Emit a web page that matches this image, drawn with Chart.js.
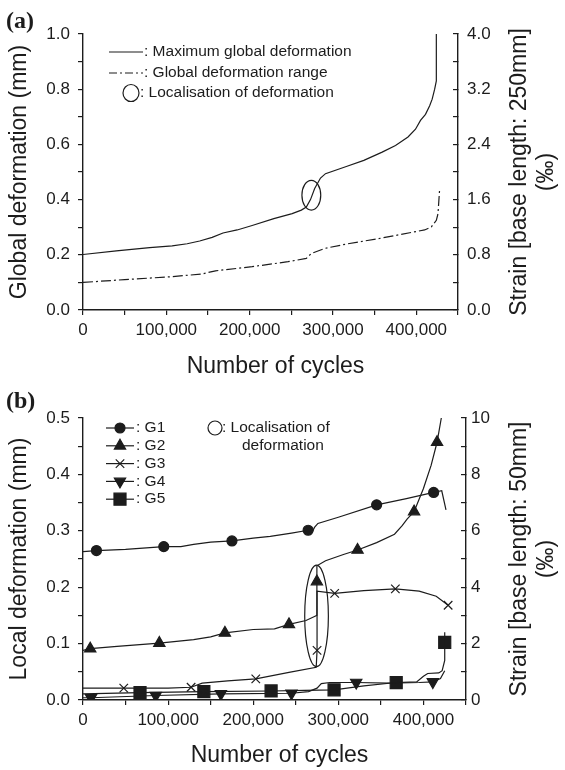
<!DOCTYPE html>
<html lang="en">
  <head>
    <meta charset="UTF-8" />
    <title>Global and local deformation vs number of cycles</title>
    <script src="https://cdn.jsdelivr.net/npm/chart.js"></script>
    <style>
      body {
        margin: 0;
        background: #fff;
      }
      .panel {
        position: absolute;
        left: 0;
        width: 565px;
        height: 385px;
      }
      .panel canvas {
        display: block;
      }
      #panelA {
        top: 0;
      }
      #panelB {
        top: 385px;
      }
    </style>
  </head>

  <body>
    <div class="panel" id="panelA"><canvas id="chartA" width="565" height="385"></canvas></div>
    <div class="panel" id="panelB"><canvas id="chartB" width="565" height="385"></canvas></div>

    <script>
      const FONT = '"Liberation Sans", Arial, Helvetica, sans-serif';
      const INK = "#1c1c1c";

      // (a) global deformation over the 250 mm base
      const maxDefCycles = [0, 40000, 80000, 107000, 125000, 140000, 155000, 168000, 185000, 203000, 229000, 251000, 262000, 268000, 273000, 278000, 285000, 291000, 316000, 337000, 359000, 375000, 390000, 399000, 405000, 411000, 416000, 419000, 422000, 424000, 424000];
      const maxDefValues = [0.201, 0.214, 0.226, 0.232, 0.24, 0.25, 0.263, 0.279, 0.29, 0.306, 0.331, 0.349, 0.362, 0.373, 0.4, 0.44, 0.478, 0.494, 0.52, 0.542, 0.572, 0.596, 0.627, 0.655, 0.687, 0.709, 0.74, 0.764, 0.8, 0.83, 1.0];
      const rangeCycles = [0, 50000, 103000, 142000, 159000, 203000, 246000, 268000, 274000, 290000, 316000, 359000, 394000, 410000, 418000, 424000, 426000, 428000];
      const rangeValues = [0.1, 0.11, 0.12, 0.13, 0.142, 0.157, 0.175, 0.187, 0.205, 0.223, 0.239, 0.261, 0.281, 0.29, 0.301, 0.325, 0.349, 0.44];
      // centre and half axes (cycles, mm) of the localisation ring
      const globalRing = [274000, 0.416, 11300, 0.054];

      // (b) local deformation, gauges G1..G5 over the 50 mm base
      const g1Cycles = [0, 15800, 50000, 94900, 115000, 130000, 150000, 175000, 200000, 220000, 245000, 264500, 270000, 272000, 276000, 300000, 345000, 380000, 412000, 421500, 426500];
      const g1Values = [0.263, 0.265, 0.267, 0.272, 0.272, 0.276, 0.28, 0.282, 0.287, 0.29, 0.296, 0.301, 0.3, 0.306, 0.313, 0.324, 0.346, 0.357, 0.368, 0.371, 0.337];
      const g1MarkCycles = [15800, 94900, 175000, 264500, 345000, 412000];
      const g1MarkValues = [0.265, 0.272, 0.282, 0.301, 0.346, 0.368];

      const g2Cycles = [0, 8500, 40000, 89700, 130000, 150000, 166700, 200000, 225000, 242000, 262000, 272000, 274800, 274800, 285000, 306000, 322600, 345000, 366000, 375000, 381000, 389000, 400000, 409000, 416000, 421000];
      const g2Values = [0.088, 0.091, 0.095, 0.101, 0.107, 0.112, 0.119, 0.125, 0.126, 0.134, 0.141, 0.148, 0.15, 0.238, 0.247, 0.258, 0.266, 0.279, 0.294, 0.309, 0.321, 0.334, 0.375, 0.416, 0.457, 0.5];
      const g2MarkCycles = [8500, 89700, 166700, 242000, 274800, 322600, 389000, 416000];
      const g2MarkValues = [0.091, 0.101, 0.119, 0.134, 0.21, 0.266, 0.334, 0.457];

      const g3Cycles = [0, 47900, 100000, 127000, 140000, 170000, 203000, 242000, 274000, 275000, 275000, 295700, 330000, 367000, 395000, 415000, 429000];
      const g3Values = [0.021, 0.021, 0.021, 0.0226, 0.03, 0.034, 0.0375, 0.049, 0.058, 0.088, 0.193, 0.189, 0.194, 0.197, 0.193, 0.184, 0.168];
      const g3MarkCycles = [47900, 127000, 203000, 275000, 295700, 367000, 429000];
      const g3MarkValues = [0.021, 0.0226, 0.0375, 0.088, 0.189, 0.197, 0.168];

      const g4Cycles = [0, 9400, 85500, 162000, 245000, 265000, 275000, 280000, 290000, 321000, 360000, 395000, 411000, 420000, 425000];
      const g4Values = [0.004, 0.004, 0.008, 0.011, 0.012, 0.015, 0.021, 0.029, 0.031, 0.031, 0.03, 0.031, 0.032, 0.038, 0.052];
      const g4MarkCycles = [9400, 85500, 162000, 245000, 321000, 411000];
      const g4MarkValues = [0.004, 0.008, 0.011, 0.012, 0.031, 0.032];

      const g5Cycles = [0, 67000, 142000, 221000, 260000, 295000, 330000, 368000, 392000, 400000, 405000, 418000, 422000, 425000, 425000];
      const g5Values = [0.011, 0.013, 0.015, 0.016, 0.017, 0.018, 0.025, 0.031, 0.032, 0.042, 0.047, 0.048, 0.052, 0.07, 0.12];
      const g5MarkCycles = [67000, 142000, 221000, 295000, 368000, 425000];
      const g5MarkValues = [0.013, 0.015, 0.016, 0.018, 0.031, 0.102];

      const localRing = [274400, 0.149, 13900, 0.09];

      // marker look for each gauge
      const gaugeMarkers = [
        { name: "G1", pointStyle: "circle", radius: 5, rotation: 0 },
        { name: "G2", pointStyle: "triangle", radius: 6.5, rotation: 0 },
        { name: "G3", pointStyle: "crossRot", radius: 6, rotation: 0 },
        { name: "G4", pointStyle: "triangle", radius: 6.5, rotation: 180 },
        { name: "G5", pointStyle: "rect", radius: 8.5, rotation: 0 },
      ];

      const toPoints = (xs, ys) => xs.map((x, i) => ({ x: x, y: ys[i] }));

      function lineSet(xs, ys, dash) {
        return {
          data: toPoints(xs, ys),
          showLine: true,
          borderColor: INK,
          borderWidth: 1.2,
          borderDash: dash || [],
          pointRadius: 0,
          tension: 0,
          fill: false,
        };
      }

      function markSet(xs, ys, m) {
        return {
          data: toPoints(xs, ys),
          showLine: false,
          pointStyle: m.pointStyle,
          pointRadius: m.radius,
          pointRotation: m.rotation,
          backgroundColor: INK,
          borderColor: INK,
          borderWidth: 1.2,
        };
      }

      const tickFont = { family: FONT, size: 17 };
      const axisLine = { display: true, color: INK, width: 1.4 };

      function cyclesAxis(height) {
        return {
          type: "linear",
          min: 0,
          max: 450000,
          afterFit: (s) => { s.height = height; },
          ticks: {
            stepSize: 50000,
            autoSkip: false,
            maxRotation: 0,
            padding: 5,
            color: INK,
            font: tickFont,
            callback: (v) => (v % 100000 === 0 ? v.toLocaleString("en-US") : ""),
          },
          grid: { drawOnChartArea: false, drawTicks: true, tickLength: 5, color: INK, lineWidth: 1.2 },
          border: axisLine,
        };
      }

      function valueAxis(opts) {
        const right = opts.position === "right";
        return {
          type: "linear",
          position: opts.position,
          min: 0,
          max: opts.max,
          afterFit: (s) => { s.width = opts.width; },
          ticks: {
            stepSize: opts.step,
            autoSkip: false,
            padding: opts.padding,
            color: INK,
            font: tickFont,
            callback: opts.label,
          },
          // left ticks point out, right ticks point into the plot
          grid: { drawOnChartArea: false, drawTicks: true, tickLength: right ? -5 : 5, color: INK, lineWidth: 1.2 },
          border: axisLine,
        };
      }

      function drawRotated(ctx, text, x, y) {
        ctx.save();
        ctx.translate(x, y);
        ctx.rotate(-Math.PI / 2);
        ctx.fillText(text, 0, 0);
        ctx.restore();
      }

      function drawRing(ctx, chart, ring) {
        const sx = chart.scales.x;
        const sy = chart.scales.y;
        const cx = sx.getPixelForValue(ring[0]);
        const cy = sy.getPixelForValue(ring[1]);
        const rx = Math.abs(sx.getPixelForValue(ring[0] + ring[2]) - cx);
        const ry = Math.abs(sy.getPixelForValue(ring[1] + ring[3]) - cy);
        ctx.beginPath();
        ctx.ellipse(cx, cy, rx, ry, 0, 0, Math.PI * 2);
        ctx.stroke();
      }

      function legendMarker(ctx, m, x, y) {
        if (Chart.helpers && Chart.helpers.drawPoint) {
          Chart.helpers.drawPoint(ctx, { pointStyle: m.pointStyle, radius: m.radius, rotation: m.rotation, borderWidth: 1.2 }, x, y);
        }
      }

      // panel letter, axis titles, rings and the hand-set legend
      function decor(cfg) {
        return {
          id: "decor",
          afterDraw(chart) {
            const ctx = chart.ctx;
            const a = chart.chartArea;
            ctx.save();
            ctx.fillStyle = INK;
            ctx.strokeStyle = INK;
            ctx.lineWidth = 1.2;

            ctx.font = 'bold 24px "Liberation Serif", "Times New Roman", serif';
            ctx.textAlign = "left";
            ctx.textBaseline = "middle";
            ctx.fillText(cfg.letter, 6, cfg.letterY);

            ctx.font = "23px " + FONT;
            ctx.textAlign = "center";
            ctx.textBaseline = "middle";
            const midY = (a.top + a.bottom) / 2;
            drawRotated(ctx, cfg.leftTitle, 20, midY);
            drawRotated(ctx, cfg.rightTitle[0], 520, midY);
            drawRotated(ctx, cfg.rightTitle[1], 547, midY);
            ctx.textBaseline = "alphabetic";
            ctx.fillText("Number of cycles", (a.left + a.right) / 2 + 5, cfg.bottomTitleY);

            drawRing(ctx, chart, cfg.ring);

            ctx.font = "15.5px " + FONT;
            ctx.textAlign = "left";
            ctx.textBaseline = "middle";
            cfg.legend(ctx);
            ctx.restore();
          },
        };
      }

      function legendLine(ctx, x1, x2, y, dash) {
        ctx.save();
        ctx.setLineDash(dash || []);
        ctx.beginPath();
        ctx.moveTo(x1, y);
        ctx.lineTo(x2, y);
        ctx.stroke();
        ctx.restore();
      }

      function legendRing(ctx, x, y, rx, ry) {
        ctx.beginPath();
        ctx.ellipse(x, y, rx, ry, 0, 0, Math.PI * 2);
        ctx.stroke();
      }

      const baseOptions = (scales) => ({
        responsive: false,
        animation: false,
        layout: { autoPadding: false, padding: { top: scales.top, left: 0, right: 0, bottom: 0 } },
        plugins: { legend: { display: false }, tooltip: { enabled: false } },
        scales: scales.axes,
      });

      // ---- (a) ----
      new Chart(document.getElementById("chartA"), {
        type: "scatter",
        data: {
          datasets: [
            lineSet(maxDefCycles, maxDefValues),
            lineSet(rangeCycles, rangeValues, [10, 3, 2, 3]),
          ],
        },
        options: baseOptions({
          top: 34,
          axes: {
            x: cyclesAxis(75),
            y: valueAxis({
              position: "left", max: 1, step: 0.1, width: 83, padding: 8,
              label: (v) => (Math.round(v * 10) % 2 === 0 ? v.toFixed(1) : ""),
            }),
            y2: valueAxis({
              position: "right", max: 4, step: 0.4, width: 107, padding: 14,
              label: (v) => (Math.round(v / 0.4) % 2 === 0 ? v.toFixed(1) : ""),
            }),
          },
        }),
        plugins: [
          decor({
            letter: "(a)",
            letterY: 22,
            leftTitle: "Global deformation (mm)",
            rightTitle: ["Strain [base length: 250mm]", "(\u2030)"],
            bottomTitleY: 373,
            ring: globalRing,
            legend: (ctx) => {
              legendLine(ctx, 109, 143, 52);
              ctx.fillText(": Maximum global deformation", 144, 52);
              legendLine(ctx, 109, 143, 73, [8, 3, 2, 3]);
              ctx.fillText(": Global deformation range", 144, 73);
              legendRing(ctx, 131, 93, 8, 8.5);
              ctx.fillText(": Localisation of deformation", 140, 93);
            },
          }),
        ],
      });

      // ---- (b) ----
      const gaugeLines = [
        [g1Cycles, g1Values], [g2Cycles, g2Values], [g3Cycles, g3Values], [g4Cycles, g4Values], [g5Cycles, g5Values],
      ];
      const gaugeMarks = [
        [g1MarkCycles, g1MarkValues], [g2MarkCycles, g2MarkValues], [g3MarkCycles, g3MarkValues],
        [g4MarkCycles, g4MarkValues], [g5MarkCycles, g5MarkValues],
      ];

      new Chart(document.getElementById("chartB"), {
        type: "scatter",
        data: {
          datasets: gaugeLines
            .map((g) => lineSet(g[0], g[1]))
            .concat(gaugeMarks.map((g, i) => markSet(g[0], g[1], gaugeMarkers[i]))),
        },
        options: baseOptions({
          top: 33,
          axes: {
            x: cyclesAxis(70),
            y: valueAxis({
              position: "left", max: 0.5, step: 0.05, width: 83, padding: 8,
              label: (v) => (Math.round(v * 20) % 2 === 0 ? v.toFixed(1) : ""),
            }),
            y2: valueAxis({
              position: "right", max: 10, step: 1, width: 99, padding: 10,
              label: (v) => (Math.round(v) % 2 === 0 ? String(Math.round(v)) : ""),
            }),
          },
        }),
        plugins: [
          decor({
            letter: "(b)",
            letterY: 17,
            leftTitle: "Local deformation (mm)",
            rightTitle: ["Strain [base length: 50mm]", "(\u2030)"],
            bottomTitleY: 377,
            ring: localRing,
            legend: (ctx) => {
              gaugeMarkers.forEach((m, i) => {
                const y = 43 + i * 17.8;
                legendLine(ctx, 106, 134, y);
                legendMarker(ctx, m, 120, y);
                ctx.fillText(": " + m.name, 136, y);
              });
              legendRing(ctx, 215, 43, 7, 7);
              ctx.fillText(": Localisation of", 222, 43);
              ctx.fillText("deformation", 242, 61);
            },
          }),
        ],
      });
    </script>
  </body>
</html>
